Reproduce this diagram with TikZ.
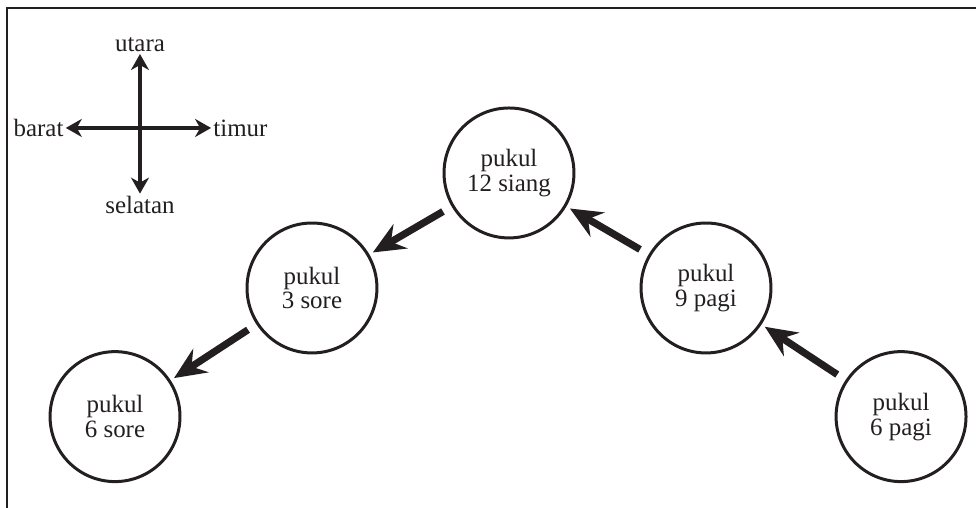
\documentclass[tikz,border=0pt]{standalone}
\usepackage{fontspec}
\setmainfont{Liberation Serif}
\usetikzlibrary{arrows.meta,positioning}
\definecolor{Ink}{HTML}{231F20}
\tikzset{clock/.style={circle,draw=Ink,line width=1.5pt,minimum size=2.29cm,inner sep=0pt,align=center,text=Ink,font=\fontsize{12.5}{12.5}\selectfont},flow/.style={draw=Ink,line width=3.6pt,-{Stealth[length=16pt,width=14pt,inset=5.5pt]},shorten <=5pt,shorten >=2pt},compass/.style={draw=Ink,line width=1.9pt,-{Stealth[length=8pt,width=9pt,inset=2.5pt]}},dirlabel/.style={text=Ink,inner sep=1pt,font=\fontsize{12.5}{12}\selectfont}}
\begin{document}
\begin{tikzpicture}[x=1cm,y=1cm]
\useasboundingbox (0,0) rectangle (17.2,8.952);
\draw[Ink,line width=1.3pt] (0.123,0)--(0.123,8.81)--(17.2,8.81);
% compass
\coordinate (C) at (2.467,6.697);
\node[dirlabel,anchor=south] (utara) at (2.467,8.0) {utara};\node[dirlabel,anchor=north] (selatan) at (2.467,5.54) {selatan};\node[dirlabel,anchor=east] (barat) at (1.16,6.697) {barat};\node[dirlabel,anchor=west] (timur) at (3.72,6.697) {timur};
\draw[compass] (C)--(utara.south);\draw[compass] (C)--(selatan.north);\draw[compass] (C)--(barat.east);\draw[compass] (C)--(timur.west);
% sun positions
\node[clock] (pagiE) at (15.879,1.61) {pukul\\6 pagi};\node[clock] (pagiN) at (12.442,3.877) {pukul\\9 pagi};\node[clock] (siang) at (8.97,5.904) {pukul\\12 siang};\node[clock] (soreT) at (5.498,3.877) {pukul\\3 sore};\node[clock] (soreE) at (2.027,1.61) {pukul\\6 sore};
\draw[flow] (pagiE)--(pagiN);\draw[flow] (pagiN)--(siang);\draw[flow] (siang)--(soreT);\draw[flow] (soreT)--(soreE);
\end{tikzpicture}
\end{document}
